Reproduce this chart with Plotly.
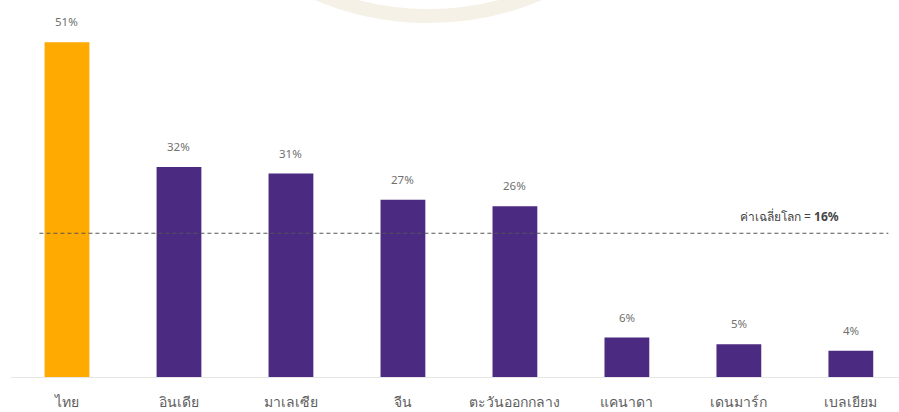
import plotly.graph_objects as go

categories = ["ไทย", "อินเดีย", "มาเลเซีย", "จีน", "ตะวันออกกลาง", "แคนาดา", "เดนมาร์ก", "เบลเยียม"]
values = [51, 32, 31, 27, 26, 6, 5, 4]
value_labels = ["51%", "32%", "31%", "27%", "26%", "6%", "5%", "4%"]
highlight = "ไทย"
avg_label = "ค่าเฉลี่ยโลก = <b>16%</b>"
avg_line_pos = 21.9  # drawn position of the dashed line as seen in the picture

colors = ["#FFAA00" if c == highlight else "#4B2A82" for c in categories]

fig = go.Figure()
fig.add_trace(go.Bar(
    x=categories, y=values, marker=dict(color=colors, line=dict(width=0)),
    width=0.4, hoverinfo="skip",
))

for c, v, t in zip(categories, values, value_labels):
    fig.add_annotation(x=c, y=v, text=t, showarrow=False, yanchor="bottom",
                       yshift=11, font=dict(size=11.5, color="#707070"))

fig.add_shape(type="line", xref="paper", yref="y", x0=0.032, x1=0.988,
              y0=avg_line_pos, y1=avg_line_pos,
              line=dict(color="#555555", width=1, dash="4px,3px"))
fig.add_annotation(xref="paper", yref="y", x=0.935, y=avg_line_pos, text=avg_label,
                   showarrow=False, xanchor="right", yanchor="bottom", yshift=6,
                   font=dict(size=12, color="#444444"))

# faint watermark arc at the top
fig.add_shape(type="circle", xref="paper", yref="paper", layer="below",
              x0=0.2, x1=0.74, y0=1.0, y1=2.1,
              line=dict(color="#f5f1e6", width=14), fillcolor="rgba(0,0,0,0)")

fig.update_layout(
    width=899, height=412,
    margin=dict(l=11, r=0, t=16, b=35),
    plot_bgcolor="white", paper_bgcolor="white",
    showlegend=False,
    font=dict(family="Noto Sans, sans-serif"),
    bargap=0.6,
)
fig.update_xaxes(range=[-0.5, 7.43], showgrid=False, showline=True,
                 linecolor="#e6e6e6", linewidth=1, ticks="",
                 tickfont=dict(size=14, color="#5e5e5e"), ticklabelstandoff=12)
fig.update_yaxes(range=[0, 55], visible=False, showgrid=False)

fig.write_html("out.html")
